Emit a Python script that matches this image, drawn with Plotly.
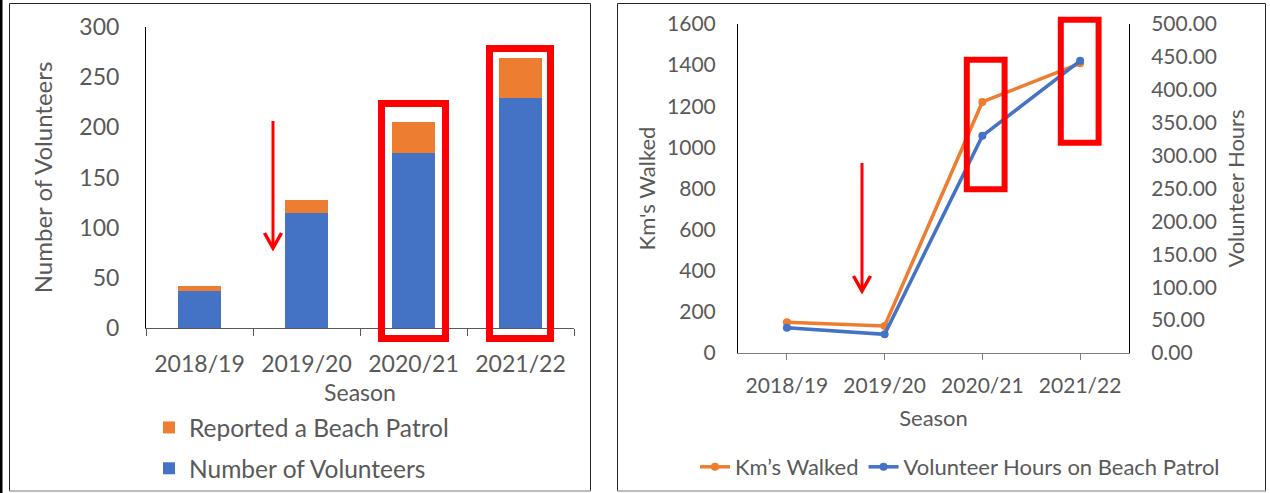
import plotly.graph_objects as go

# ---- data ----
seasons = ["2018/19", "2019/20", "2020/21", "2021/22"]
volunteers = [37, 115, 174, 229]
reported = [5, 13, 31, 40]
km_walked = [149, 131, 1221, 1409]
volunteer_hours = [38.5, 28.4, 330.0, 444.0]

W, H = 1270, 493


def px(x):
    return x / W


def py(y):
    return 1 - y / H


BLUE = "#4472C4"
ORANGE = "#ED7D31"
TEXT = "#595959"
RED = "#FF0000"
FONT = "Lato"

fig = go.Figure()

# left: stacked bars
fig.add_trace(go.Bar(x=seasons, y=volunteers, name="Number of Volunteers",
                     marker=dict(color=BLUE, line=dict(width=0)),
                     xaxis="x", yaxis="y", legend="legend", legendgroup="a", legendrank=2))
fig.add_trace(go.Bar(x=seasons, y=reported, name="Reported a Beach Patrol",
                     marker=dict(color=ORANGE, line=dict(width=0)),
                     xaxis="x", yaxis="y", legend="legend", legendgroup="b", legendrank=1))

# right: lines
fig.add_trace(go.Scatter(x=seasons, y=km_walked, name="Km’s Walked",
                         mode="lines+markers",
                         line=dict(color=ORANGE, width=3.5),
                         marker=dict(color=ORANGE, size=8),
                         xaxis="x2", yaxis="y2", legend="legend2"))
fig.add_trace(go.Scatter(x=seasons, y=volunteer_hours,
                         name="Volunteer Hours on Beach Patrol",
                         mode="lines+markers",
                         line=dict(color=BLUE, width=3.5),
                         marker=dict(color=BLUE, size=8),
                         xaxis="x2", yaxis="y3", legend="legend2"))

shapes = []
# panel borders
shapes.append(dict(type="rect", xref="paper", yref="paper", x0=0, x1=px(2.5), y0=0, y1=1,
                   fillcolor="black", line=dict(width=0)))
for (a, b) in [(9.5, 590.5), (617.5, 1265.5)]:
    shapes.append(dict(type="rect", xref="paper", yref="paper", x0=px(a), x1=px(b),
                       y0=py(491), y1=py(3.5), line=dict(color="#262626", width=1)))
    shapes.append(dict(type="line", xref="paper", yref="paper", x0=px(a), x1=px(b),
                       y0=py(491), y1=py(491), line=dict(color="#C8C8C8", width=1.5)))

# red highlight rectangles
for (x0, x1, y0, y1, w) in [(381.5, 445.5, 103.5, 338.5, 7),
                            (489.5, 550.5, 48.5, 338.5, 7),
                            (966.8, 1004.6, 59.7, 189.3, 6),
                            (1060.8, 1098.6, 19.7, 142.7, 6)]:
    shapes.append(dict(type="rect", xref="paper", yref="paper", x0=px(x0), x1=px(x1),
                       y0=py(y1), y1=py(y0), line=dict(color=RED, width=w), layer="above"))

# red arrows
for (x, ytop, ytip, hw, hh) in [(273, 121, 248, 8.5, 15), (862, 163, 291, 8.5, 15)]:
    shapes.append(dict(type="line", xref="paper", yref="paper", x0=px(x), x1=px(x),
                       y0=py(ytop), y1=py(ytip - 2), line=dict(color=RED, width=3)))
    shapes.append(dict(type="path", xref="paper", yref="paper",
                       path=f"M {px(x-hw)} {py(ytip-hh)} L {px(x)} {py(ytip)} L {px(x+hw)} {py(ytip-hh)}",
                       line=dict(color=RED, width=3.5)))

axis_common = dict(showgrid=False, zeroline=False, color=TEXT, automargin=False)

fig.update_layout(
    template="none",
    width=W, height=H,
    margin=dict(l=0, r=0, t=0, b=0, pad=0, autoexpand=False),
    paper_bgcolor="white", plot_bgcolor="rgba(0,0,0,0)",
    font=dict(family=FONT, color=TEXT),
    barmode="stack", bargap=0.6,
    showlegend=True,
    hovermode=False,
    xaxis=dict(**axis_common, domain=[px(146), px(574)], anchor="y", type="category",
               range=[-0.5, 3.5], showline=True, linecolor="#595959", linewidth=1,
               ticks="outside", tickson="boundaries", ticklen=7, tickcolor="#595959",
               tickfont=dict(size=23), ticklabelstandoff=15,
               title=dict(text="Season", font=dict(size=23), standoff=9)),
    yaxis=dict(**axis_common, domain=[py(328), py(27)], anchor="x", range=[0, 300], dtick=50,
               showline=True, linecolor="black", linewidth=1, ticks="",
               tickfont=dict(size=23), ticklabelstandoff=21,
               title=dict(text="Number of Volunteers", font=dict(size=24), standoff=19)),
    xaxis2=dict(**axis_common, domain=[px(738), px(1129)], anchor="y2", type="category",
                range=[-0.5, 3.5], showline=True, linecolor="#7F7F7F", linewidth=1,
                ticks="outside", ticklen=6, tickcolor="#7F7F7F",
                tickfont=dict(size=21), ticklabelstandoff=8,
                title=dict(text="Season", font=dict(size=22), standoff=14)),
    yaxis2=dict(**axis_common, domain=[py(353), py(24)], anchor="x2", range=[0, 1600], dtick=200,
                showline=True, linecolor="black", linewidth=1, ticks="",
                tickfont=dict(size=21), ticklabelstandoff=17,
                title=dict(text="Km's Walked", font=dict(size=22), standoff=5)),
    yaxis3=dict(**axis_common, overlaying="y2", side="right", anchor="x2",
                range=[0, 500], dtick=50, tickformat=".2f",
                showline=True, linecolor="black", linewidth=1, ticks="",
                tickfont=dict(size=21), ticklabelstandoff=17,
                title=dict(text="Volunteer Hours", font=dict(size=22), standoff=12)),
    legend=dict(x=px(149), y=py(405), xanchor="left", yanchor="top", orientation="v",
                traceorder="grouped", tracegroupgap=6,
                font=dict(size=24.5, color=TEXT), bgcolor="rgba(0,0,0,0)"),
    legend2=dict(x=px(695), y=py(446), xanchor="left", yanchor="top", orientation="h",
                 font=dict(size=22, color=TEXT), bgcolor="rgba(0,0,0,0)", itemwidth=30),
    shapes=shapes,
)

fig.write_html("out.html",
               config={"displayModeBar": False, "staticPlot": False},
               post_script="document.body.style.margin='0';document.body.style.padding='0';"
                           "document.documentElement.style.overflow='hidden';")
